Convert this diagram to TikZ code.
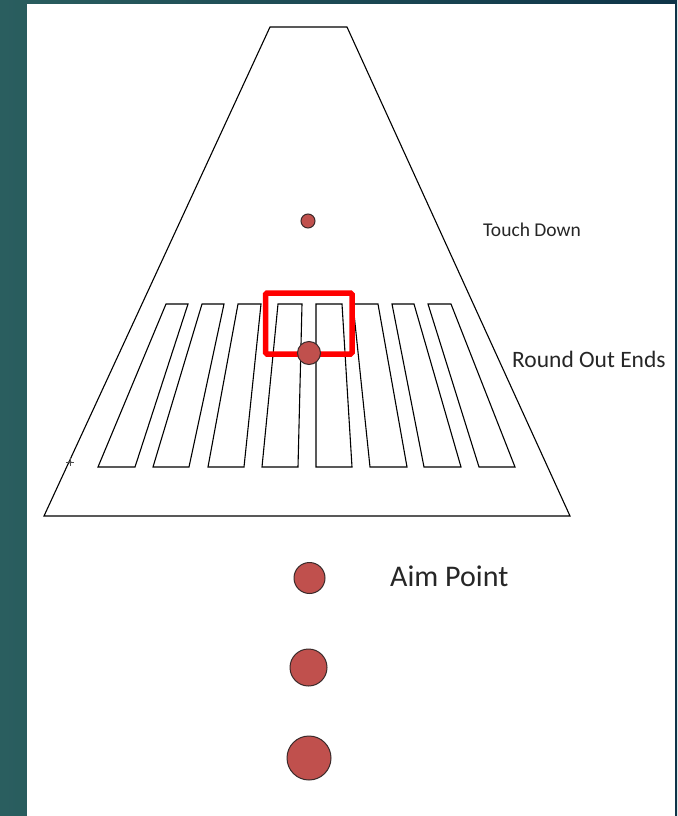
\documentclass[tikz,border=0pt]{standalone}
\usepackage{fontspec}
\setmainfont{Carlito}
\definecolor{bandL}{HTML}{2A5E5F}
\definecolor{bandR}{HTML}{0E3448}
\definecolor{dotred}{HTML}{C0504D}
\definecolor{dotedge}{HTML}{3A2A2A}
\tikzset{
  stripe/.style={draw=black,line width=1.1pt,line join=miter},
  dot/.style={circle,fill=dotred,draw=dotedge,line width=1pt,inner sep=0pt,minimum size=#1},
  lbl/.style={anchor=base west,inner sep=0pt,text=black!85}
}
\begin{document}
\begin{tikzpicture}[x=1pt,y=-1pt]
\useasboundingbox (0,0) rectangle (677,816);
\shade[left color=bandL,right color=bandR] (0,0) rectangle (677,816);
\fill[white] (27,4) rectangle (675,816);
% runway trapezoid
\draw[stripe] (270,27) -- (347,27) -- (570,516) -- (44,516) -- cycle;
% stripes
\draw[stripe] (166,304) -- (188,304) -- (135,467) -- (98,467) -- cycle;
\draw[stripe] (202,304) -- (224,304) -- (189,467) -- (153,467) -- cycle;
\draw[stripe] (238,304) -- (261,304) -- (244,467) -- (208,467) -- cycle;
\draw[stripe] (278,304) -- (302,304) -- (298,467) -- (262,467) -- cycle;
\draw[stripe] (316,304) -- (342,304) -- (352,467) -- (316,467) -- cycle;
\draw[stripe] (353,304) -- (378,304) -- (407,467) -- (370,467) -- cycle;
\draw[stripe] (392,304) -- (414,304) -- (461,467) -- (424,467) -- cycle;
\draw[stripe] (428,304) -- (451,304) -- (515,467) -- (479,467) -- cycle;
% small crosshair marker
\draw[black!70,line width=0.8pt] (66,462) -- (74,462) (70,458) -- (70,466);
\draw[black!70,line width=0.6pt] (70,462) circle (1.2);
% red box
\draw[red,line width=5.5pt,rounded corners=1.5pt] (265.5,293) rectangle (352,354);
% dots
\node[dot=14pt] (td) at (308,221) {};
\node[dot=23pt] (ro) at (309,353) {};
\node[dot=31pt] (a1) at (309.5,578) {};
\node[dot=37pt] (a2) at (308.5,667.5) {};
\node[dot=44pt] (a3) at (309,758) {};
% labels
\node[lbl,font=\fontsize{19.5}{22}\selectfont] (ltd) at (483,236) {Touch Down};
\node[lbl,font=\fontsize{23.5}{26}\selectfont] (lro) at (512,367) {Round Out Ends};
\node[lbl,font=\fontsize{30}{34}\selectfont] (lap) at (390,586) {Aim Point};
\end{tikzpicture}
\end{document}
